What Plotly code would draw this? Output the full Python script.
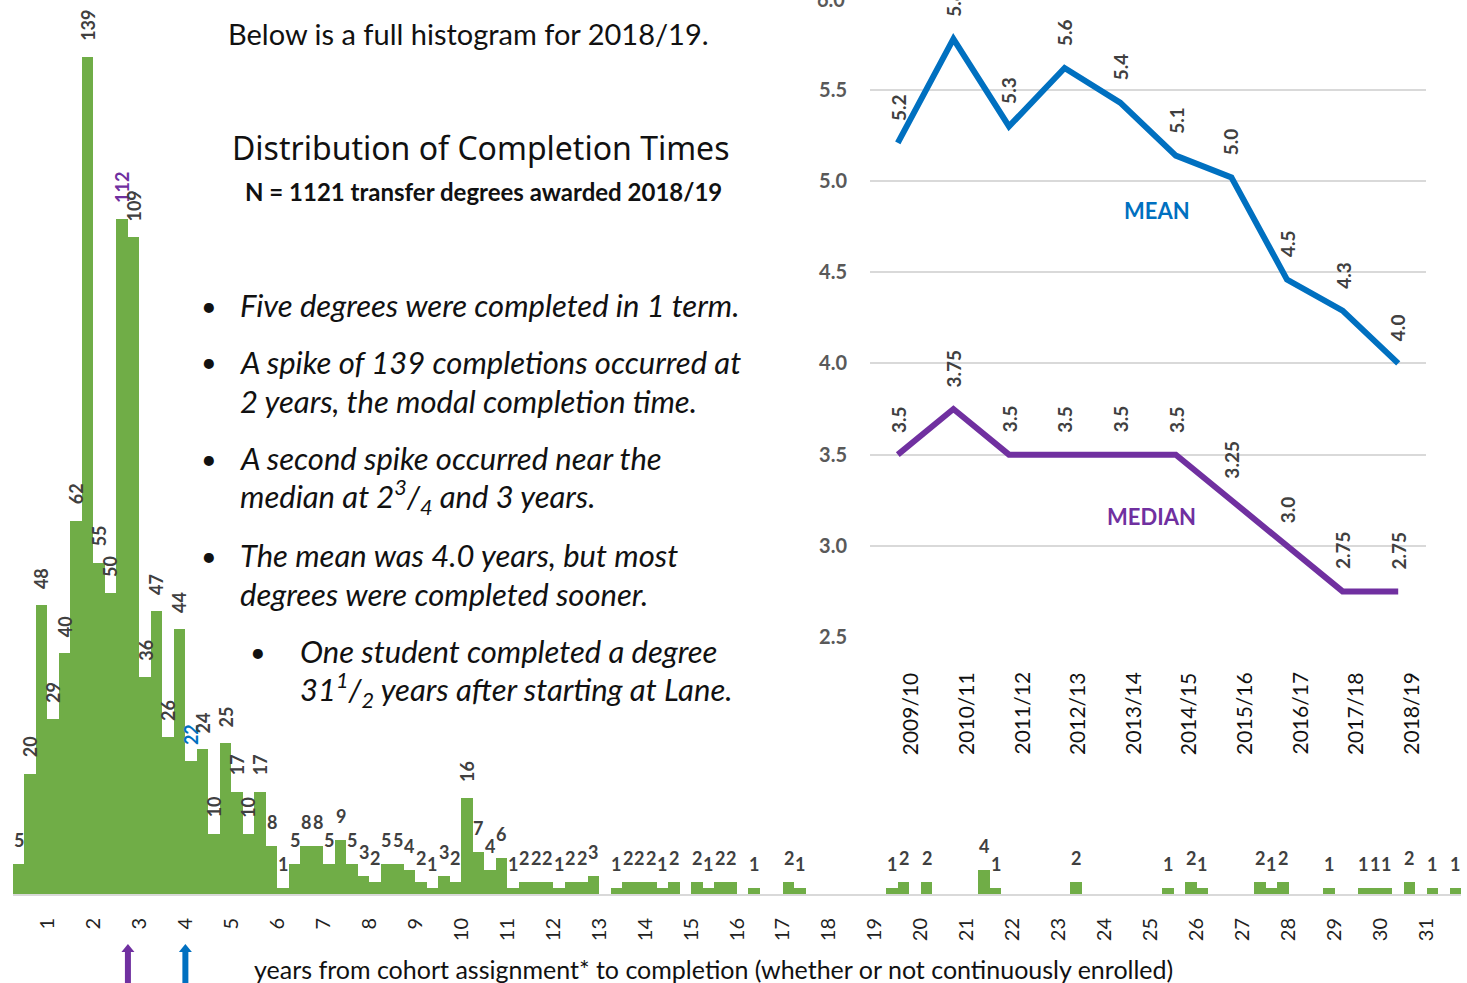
import plotly.graph_objects as go

W, H = 1467, 983

# ---------------- data ----------------
# histogram: completions per quarter-year bin, first bin starts at 0.25 years
COUNTS = [5, 20, 48, 29, 40, 62, 139, 55, 50, 112, 109, 36, 47, 26, 44, 22, 24, 10, 25, 17,
          10, 17, 8, 1, 5, 8, 8, 5, 9, 5, 3, 2, 5, 5, 4, 2, 1, 3, 2, 16,
          7, 4, 6, 1, 2, 2, 2, 1, 2, 2, 3, 0, 1, 2, 2, 2, 1, 2, 0, 2,
          1, 2, 2, 0, 1, 0, 0, 2, 1, 0, 0, 0, 0, 0, 0, 0, 1, 2, 0, 2,
          0, 0, 0, 0, 4, 1, 0, 0, 0, 0, 0, 0, 2, 0, 0, 0, 0, 0, 0, 0,
          1, 0, 2, 1, 0, 0, 0, 0, 2, 1, 2, 0, 0, 0, 1, 0, 0, 1, 1, 1,
          0, 2, 0, 1, 0, 1]
FIRST_BIN_START = 0.25
BIN_WIDTH = 0.25
YEAR_TICKS = list(range(1, 32))
MEDIAN_BIN_INDEX = 9   # 112 label shown in purple
MEAN_BIN_INDEX = 15    # 22 label shown in blue

SCHOOL_YEARS = ["2009/10", "2010/11", "2011/12", "2012/13", "2013/14",
                "2014/15", "2015/16", "2016/17", "2017/18", "2018/19"]
MEAN = [5.21, 5.78, 5.30, 5.62, 5.43, 5.14, 5.02, 4.46, 4.29, 4.00]
MEDIAN = [3.5, 3.75, 3.5, 3.5, 3.5, 3.5, 3.25, 3.0, 2.75, 2.75]
MEDIAN_LABELS = ["3.5", "3.75", "3.5", "3.5", "3.5", "3.5", "3.25", "3.0", "2.75", "2.75"]

# ---------------- styles ----------------
GREEN = "#70AD47"
BLUE = "#0070C0"
PURPLE = "#7030A0"
LABEL_GRAY = "#404040"
FONT = "Lato"

X0_PX, X1_PX = 13, 1461          # histogram plot area, pixels
X_MIN, X_MAX = 0.25, 31.75
PX_PER_YEAR = (X1_PX - X0_PX) / (X_MAX - X_MIN)


def px(x):
    return x / W


def py(y):
    return 1 - y / H


bin_centers = [FIRST_BIN_START + BIN_WIDTH * (i + 0.5) for i in range(len(COUNTS))]

fig = go.Figure()
fig.add_trace(go.Bar(
    x=bin_centers, y=COUNTS, width=BIN_WIDTH,
    marker=dict(color=GREEN, line=dict(width=0)),
    xaxis="x", yaxis="y", hoverinfo="x+y", showlegend=False,
))

fig.add_trace(go.Scatter(
    x=SCHOOL_YEARS, y=MEAN, mode="lines",
    line=dict(color=BLUE, width=6), xaxis="x2", yaxis="y2", showlegend=False,
))
fig.add_trace(go.Scatter(
    x=SCHOOL_YEARS, y=MEDIAN, mode="lines",
    line=dict(color=PURPLE, width=6), xaxis="x2", yaxis="y2", showlegend=False,
))

ann = []
# bar value labels
for i, (xc, v) in enumerate(zip(bin_centers, COUNTS)):
    if v == 0:
        continue
    color = LABEL_GRAY
    if i == MEDIAN_BIN_INDEX:
        color = PURPLE
    elif i == MEAN_BIN_INDEX:
        color = BLUE
    vertical = v >= 10
    ann.append(dict(
        x=xc, y=v, xref="x", yref="y", text=str(v), showarrow=False,
        textangle=-90 if vertical else 0, xanchor="center", yanchor="bottom",
        yshift=14 if vertical else 11,
        font=dict(family=FONT, size=18, color=color, weight="bold"),
    ))

# line chart value labels
for cat, v in zip(SCHOOL_YEARS, MEAN):
    ann.append(dict(
        x=cat, y=v, xref="x2", yref="y2", text=f"{v:.1f}", showarrow=False,
        textangle=-90, xanchor="center", yanchor="bottom", yshift=20,
        font=dict(family=FONT, size=19, color=LABEL_GRAY, weight="bold"),
    ))
for cat, v, t in zip(SCHOOL_YEARS, MEDIAN, MEDIAN_LABELS):
    ann.append(dict(
        x=cat, y=v, xref="x2", yref="y2", text=t, showarrow=False,
        textangle=-90, xanchor="center", yanchor="bottom", yshift=20,
        font=dict(family=FONT, size=19, color=LABEL_GRAY, weight="bold"),
    ))
# line chart category labels
for cat in SCHOOL_YEARS:
    ann.append(dict(
        x=cat, y=py(670), xref="x2", yref="paper", text=cat, showarrow=False,
        textangle=-90, xanchor="center", yanchor="top", xshift=12,
        font=dict(family=FONT, size=21, color="#111111"),
    ))
# clipped top tick label
ann.append(dict(x=px(847), y=py(-1), xref="paper", yref="paper", text="6.0",
                showarrow=False, xanchor="right", yanchor="middle",
                font=dict(family=FONT, size=20, color="#595959", weight="bold")))

ann.append(dict(x=px(1157), y=py(210), xref="paper", yref="paper", text="MEAN",
                showarrow=False, xanchor="center", yanchor="middle",
                font=dict(family=FONT, size=22, color=BLUE, weight="bold")))
ann.append(dict(x=px(1151), y=py(516), xref="paper", yref="paper", text="MEDIAN",
                showarrow=False, xanchor="center", yanchor="middle",
                font=dict(family=FONT, size=22, color=PURPLE, weight="bold")))

# text block
TXT = "#111111"
ann.append(dict(x=px(226), y=py(34), xref="paper", yref="paper",
                text="Below is a full histogram for 2018/19.", showarrow=False,
                xanchor="left", yanchor="middle",
                font=dict(family=FONT, size=29, color=TXT)))
ann.append(dict(x=px(480), y=py(148), xref="paper", yref="paper",
                text="Distribution of Completion Times", showarrow=False,
                xanchor="center", yanchor="middle",
                font=dict(family="Noto Sans", size=32, color=TXT)))
ann.append(dict(x=px(483), y=py(192), xref="paper", yref="paper",
                text="N = 1121 transfer degrees awarded 2018/19", showarrow=False,
                xanchor="center", yanchor="middle",
                font=dict(family=FONT, size=24, color=TXT, weight="bold")))

lines = [
    (238, 305, "Five degrees were completed in 1 term."),
    (238, 362, "A spike of 139 completions occurred at"),
    (238, 401, "2 years, the modal completion time."),
    (238, 458, "A second spike occurred near the"),
    (238, 497, "median at 2<sup>3</sup>/<sub>4</sub> and 3 years."),
    (238, 555, "The mean was 4.0 years, but most"),
    (238, 594, "degrees were completed sooner."),
    (298, 651, "One student completed a degree"),
    (298, 690, "31<sup>1</sup>/<sub>2</sub> years after starting at Lane."),
]
for x0, y0, t in lines:
    ann.append(dict(x=px(x0), y=py(y0), xref="paper", yref="paper", text=t,
                    showarrow=False, xanchor="left", yanchor="middle",
                    font=dict(family=FONT, size=31, color=TXT, style="italic")))
for x0, y0 in [(209, 305), (209, 362), (209, 458), (209, 555), (258, 651)]:
    ann.append(dict(x=px(x0), y=py(y0), xref="paper", yref="paper", text="•",
                    showarrow=False, xanchor="center", yanchor="middle",
                    font=dict(family=FONT, size=27, color=TXT)))

# axis title
ann.append(dict(x=px(252), y=py(969), xref="paper", yref="paper",
                text="years from cohort assignment* to completion (whether or not continuously enrolled)",
                showarrow=False, xanchor="left", yanchor="middle",
                font=dict(family=FONT, size=25, color=TXT)))

# arrows (as shapes, so they never push the margins) pointing at 2018/19 median and mean
shapes = []
HEAD_HALF = 6.5 / PX_PER_YEAR
for val, col in [(MEDIAN[-1], PURPLE), (MEAN[-1], BLUE)]:
    shapes.append(dict(type="line", xref="x", yref="paper",
                       x0=val, x1=val, y0=py(983), y1=py(950),
                       line=dict(color=col, width=6)))
    shapes.append(dict(type="path", xref="x", yref="paper",
                       path=(f"M {val - HEAD_HALF},{py(952)} L {val + HEAD_HALF},{py(952)} "
                             f"L {val},{py(944)} Z"),
                       fillcolor=col, line=dict(color=col, width=0)))

fig.update_layout(
    width=W, height=H,
    margin=dict(l=0, r=0, t=0, b=0, autoexpand=False),
    paper_bgcolor="white", plot_bgcolor="rgba(0,0,0,0)",
    bargap=0,
    annotations=ann,
    shapes=shapes,
    xaxis=dict(domain=[px(X0_PX), px(X1_PX)], range=[X_MIN, X_MAX],
               tickvals=YEAR_TICKS, ticktext=[str(t) for t in YEAR_TICKS],
               tickangle=-90, ticks="", showgrid=False, zeroline=False,
               showline=True, linecolor="#D9D9D9", linewidth=2,
               ticklabelstandoff=14, automargin=False,
               tickfont=dict(family=FONT, size=20, color="#222222")),
    yaxis=dict(domain=[py(894), 1], range=[0, 148.4], visible=False),
    xaxis2=dict(domain=[px(870), px(1426)], range=[-0.5, 9.5], type="category",
                anchor="y2", showgrid=False, zeroline=False, showline=False,
                showticklabels=False, ticks=""),
    yaxis2=dict(domain=[py(637), 1], range=[2.5, 5.993], anchor="x2",
                tick0=2.5, dtick=0.5, tickformat=".1f",
                showgrid=True, gridcolor="#D9D9D9", gridwidth=2,
                zeroline=False, showline=False, ticks="",
                ticklabelstandoff=22, automargin=False,
                tickfont=dict(family=FONT, size=20, color="#595959", weight="bold")),
)

POST = (
    "var de=document.documentElement, b=document.body;"
    "de.style.margin='0';de.style.padding='0';de.style.overflow='hidden';de.style.height='983px';"
    "b.style.margin='0';b.style.padding='0';b.style.overflow='hidden';b.style.height='983px';"
    "var g=document.getElementById('{plot_id}');"
    "if(g&&g.parentElement){g.parentElement.style.height='983px';g.parentElement.style.overflow='hidden';}"
)

fig.write_html("out.html", config={"displayModeBar": False}, post_script=POST)
